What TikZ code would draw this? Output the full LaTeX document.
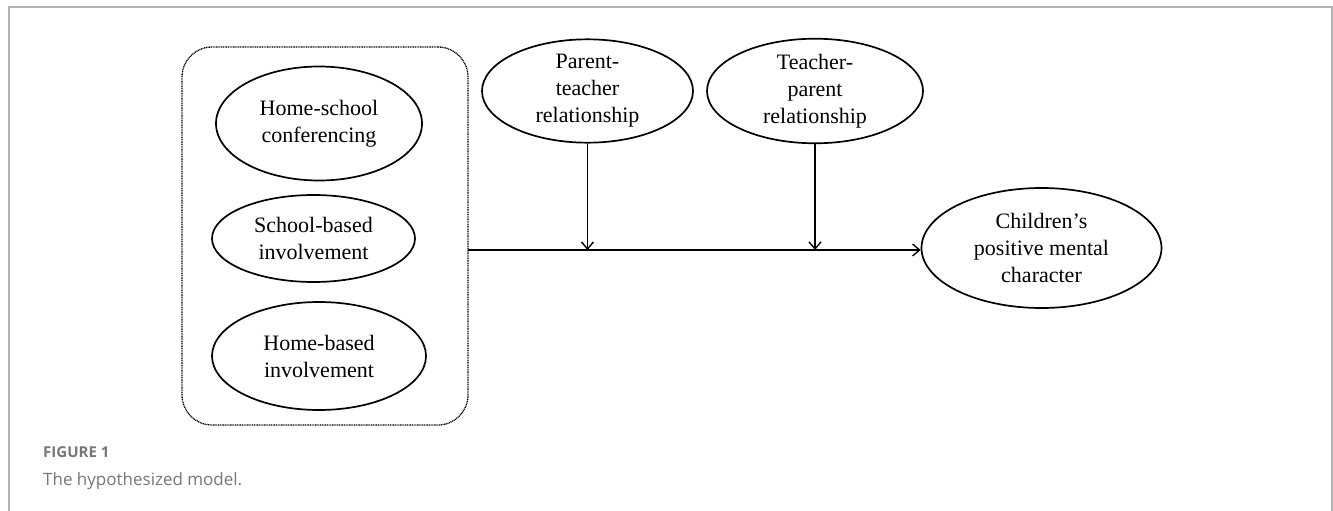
\documentclass[tikz,border=0pt]{standalone}
\usepackage{fontspec}
\setmainfont{Liberation Serif}
\newfontfamily\capfont{Open Sans}
\usetikzlibrary{arrows.meta,shapes.geometric}
\definecolor{framegray}{HTML}{B4B4B4}
\definecolor{capgray}{HTML}{777777}
\tikzset{
  x=1pt,y=-1pt,
  oval/.style={ellipse,draw,line width=1.7pt,inner sep=0pt,align=center,
    font=\fontsize{22}{27}\selectfont},
  groupbox/.style={draw,dash pattern=on 1pt off 0.7pt,line width=1.3pt,rounded corners=30pt,inner sep=0pt},
  conn/.style={line width=1.5pt,-{Straight Barb[length=7pt,width=12pt,line width=1.4pt]}},
}
\begin{document}
\begin{tikzpicture}
\useasboundingbox (0,0) rectangle (1333,511);
\draw[framegray,line width=1.5pt] (9,511) -- (9,7) -- (1332,7) -- (1332,511);
\node[groupbox,minimum width=286pt,minimum height=378pt] (grp) at (325,236) {};
\node[oval,minimum width=206pt,minimum height=114pt] (hsc) at (319,123.5) {Home-school\\conferencing};
\node[oval,minimum width=203pt,minimum height=87pt] (sbi) at (313.5,238.5) {School-based\\involvement};
\node[oval,minimum width=214pt,minimum height=108pt] (hbi) at (319,356) {Home-based\\involvement};
\node[oval,minimum width=211pt,minimum height=98pt] (ptr) at (587.5,91) {Parent-\\teacher\\relationship};
\node[oval,minimum width=216pt,minimum height=98pt] (tpr) at (815,91) {Teacher-\\parent\\relationship};
\node[oval,minimum width=240pt,minimum height=120pt] (cpm) at (1041.5,248) {Children’s\\positive mental\\character};
\coordinate (start) at (468,250);
\draw[conn] (start) -- (start -| cpm.west);
\draw[conn] (ptr.south) -- (ptr.south |- start);
\draw[conn] (tpr.south) -- (tpr.south |- start);
\node[anchor=base west,inner sep=0pt,text=capgray,font=\capfont\bfseries\fontsize{15}{18}\selectfont] (figlab) at (43,457) {FIGURE 1};
\node[anchor=base west,inner sep=0pt,text=capgray,font=\capfont\fontsize{17}{20}\selectfont] (figcap) at (43,485) {The hypothesized model.};
\end{tikzpicture}
\end{document}
